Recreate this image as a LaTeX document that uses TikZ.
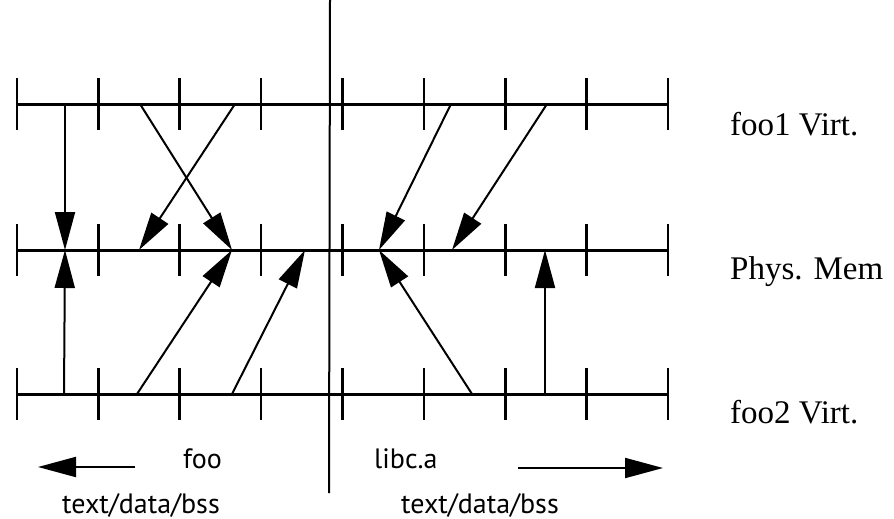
\documentclass[tikz,border=0pt]{standalone}
\usepackage{fontspec}
\setmainfont{Liberation Serif}
\newfontfamily\labelfont{PT Sans}
\usepackage{tikz}
\usetikzlibrary{arrows.meta}
\tikzset{map/.style = {-{Triangle[length=38pt, width=20pt]}, line width=2pt},
         space/.style = {line width=3pt},
         tick/.style = {line width=2.6pt},
         rowname/.style = {anchor=base west, inner sep=0pt, font=\fontsize{33}{38}\selectfont},
         segname/.style = {anchor=base, inner sep=0pt, font=\labelfont\fontsize{28}{32}\selectfont}}

\begin{document}
\begin{tikzpicture}[x=1pt, y=-1pt]
      \useasboundingbox (0, 0) rectangle (894, 519);
      \foreach \y in {104, 250, 394} {
        \draw [space] (17, \y) -- (668, \y);
        \foreach \i in {0, ..., 8}
          \draw [tick] ({17 + 81.375 * \i}, {\y - 26}) -- ++(0, 52);
      }
      \draw [line width=2pt] (330, 0) -- (329, 493);

      \coordinate (v1a) at (65, 104);
      \coordinate (v1b) at (140, 104);
      \coordinate (v1c) at (235, 104);
      \coordinate (v1d) at (451, 104);
      \coordinate (v1e) at (547, 104);
      \coordinate (pma) at (65, 250);
      \coordinate (pmb) at (139, 250);
      \coordinate (pmc) at (232, 250);
      \coordinate (pmd) at (305, 250);
      \coordinate (pme) at (379, 250);
      \coordinate (pmf) at (452, 250);
      \coordinate (pmg) at (545, 250);
      \coordinate (v2a) at (64, 394);
      \coordinate (v2b) at (137, 394);
      \coordinate (v2c) at (232, 394);
      \coordinate (v2d) at (472, 394);
      \coordinate (v2e) at (545, 394);
      \draw [map] (v1a) -- (pma);
      \draw [map] (v1b) -- (pmc);
      \draw [map] (v1c) -- (pmb);
      \draw [map] (v1d) -- (pme);
      \draw [map] (v1e) -- (pmf);
      \draw [map] (v2a) -- (pma);
      \draw [map] (v2b) -- (pmc);
      \draw [map] (v2c) -- (pmd);
      \draw [map] (v2d) -- (pme);
      \draw [map] (v2e) -- (pmg);

      \node [rowname] (foo1) at (730, 135) {foo1 Virt.};
      \node [rowname] (phys) at (730, 279) {Phys. Mem};
      \node [rowname] (foo2) at (730, 423) {foo2 Virt.};

      \node [segname, anchor=base west] (foo) at (183, 468) {foo};
      \node [segname, anchor=base west] (libc) at (374, 468) {libc.a};
      \node [segname] (foosegs) at (141, 513) {text/data/bss};
      \node [segname] (libcsegs) at (480, 513) {text/data/bss};
      \coordinate (footail) at (135, 467);
      \coordinate (foohead) at (38, 467);
      \coordinate (libctail) at (518, 468);
      \coordinate (libchead) at (663, 468);
      \draw [map] (footail) -- (foohead);
      \draw [map] (libctail) -- (libchead);
    \end{tikzpicture}
\end{document}
